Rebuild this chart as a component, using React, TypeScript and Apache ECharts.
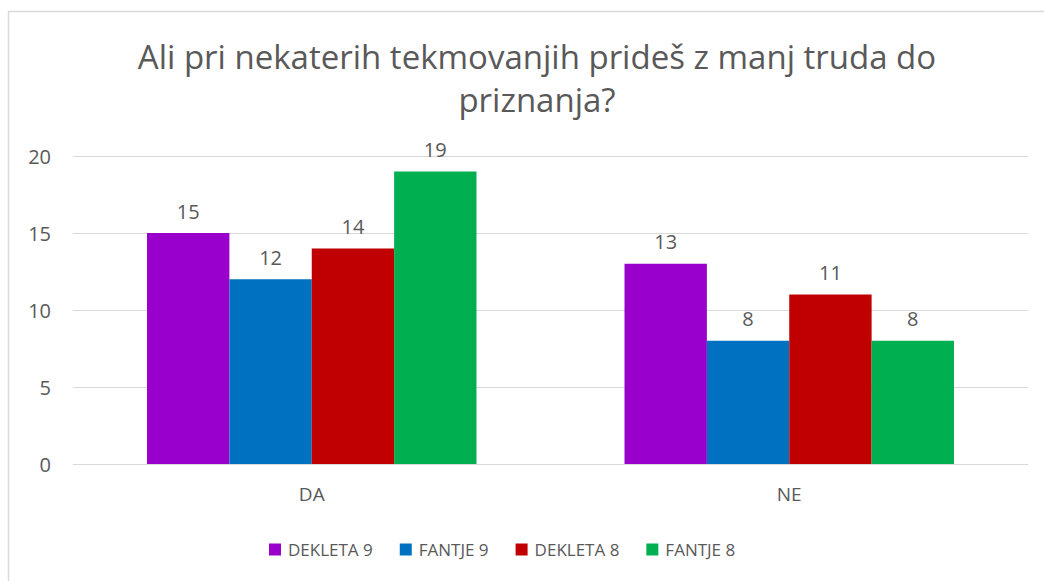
import React, { useEffect, useRef } from "react";
import * as echarts from "echarts";

const categories = ["DA", "NE"];
const seriesNames = ["DEKLETA 9", "FANTJE 9", "DEKLETA 8", "FANTJE 8"];
const dekleta9 = [15, 13];
const fantje9 = [12, 8];
const dekleta8 = [14, 11];
const fantje8 = [19, 8];
const colors = ["#9900CC", "#0070C0", "#C00000", "#00B050"];
const yTicks = { min: 0, max: 20, interval: 5 };

const FONT = "'Open Sans', 'Noto Sans', sans-serif";
const TXT = "#595959";

export default function App() {
  const ref = useRef<HTMLDivElement>(null);
  useEffect(() => {
    if (!ref.current) return;
    const chart = echarts.init(ref.current, undefined, { renderer: "svg" });
    const data = [dekleta9, fantje9, dekleta8, fantje8];
    chart.setOption({
      animation: false,
      textStyle: { fontFamily: FONT },
      title: {
        text: "Ali pri nekaterih tekmovanjih prideš z manj truda do\npriznanja?",
        left: 532,
        textAlign: "center",
        top: 30,
        textStyle: {
          fontFamily: FONT,
          fontSize: 33,
          fontWeight: "normal",
          color: TXT,
          lineHeight: 43,
        },
      },
      graphic: [
        {
          type: "rect",
          shape: { x: 8.5, y: 11.5, width: 1100, height: 700 },
          style: { fill: "none", stroke: "#D9D9D9", lineWidth: 1.5 },
          silent: true,
        },
      ],
      legend: {
        bottom: 18,
        left: 264,
        itemWidth: 12,
        itemHeight: 12,
        itemGap: 27,
        icon: "rect",
        textStyle: { fontFamily: FONT, fontSize: 17, color: TXT, padding: [0, 0, 0, 2] },
        data: seriesNames,
      },
      grid: { left: 73, right: 16, top: 156, bottom: 117, containLabel: false },
      xAxis: {
        type: "category",
        data: categories,
        axisLine: { lineStyle: { color: "#D9D9D9", width: 1 } },
        axisTick: { show: false },
        axisLabel: { fontFamily: FONT, fontSize: 19, color: TXT, margin: 20 },
      },
      yAxis: {
        type: "value",
        min: yTicks.min,
        max: yTicks.max,
        interval: yTicks.interval,
        axisLine: { show: false },
        axisTick: { show: false },
        splitLine: { lineStyle: { color: "#D9D9D9", width: 1 } },
        axisLabel: { fontFamily: FONT, fontSize: 20, color: TXT, margin: 22 },
      },
      series: seriesNames.map((name, i) => ({
        name,
        type: "bar",
        data: data[i],
        barGap: "0%",
        barCategoryGap: "31%",
        itemStyle: { color: colors[i] },
        label: {
          show: true,
          position: "top",
          distance: 12,
          fontFamily: FONT,
          fontSize: 20,
          color: TXT,
        },
      })),
    });
    return () => chart.dispose();
  }, []);
  return (
    <div
      ref={ref}
      style={{ position: "fixed", left: 0, top: 0, width: 1044, height: 581, background: "#fff" }}
    />
  );
}
